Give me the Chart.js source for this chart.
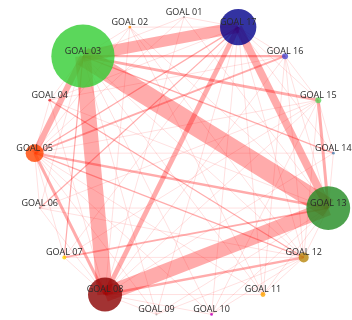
<!DOCTYPE html>
<html>
<head>
<meta charset="utf-8">
<script src="https://cdn.jsdelivr.net/npm/chart.js@4/dist/chart.umd.min.js"></script>
<style>
  html, body { margin: 0; padding: 0; background: #fff; }
  #wrap { width: 352px; height: 320px; }
</style>
</head>
<body>
<div id="wrap"><canvas id="c" width="352" height="320"></canvas></div>
<script>
// Goals (nodes), in order around the circle
const goals = ['GOAL 01','GOAL 02','GOAL 03','GOAL 04','GOAL 05','GOAL 06','GOAL 07','GOAL 08','GOAL 09',
               'GOAL 10','GOAL 11','GOAL 12','GOAL 13','GOAL 14','GOAL 15','GOAL 16','GOAL 17'];
// Occurrences per goal (node area)
const goalCount = [1, 2, 1000, 2, 80, 1, 4, 290, 1, 2, 6, 25, 480, 2, 9, 9, 330];
const goalColors = ['#999999','#ff8c00','#32cd32','#e8252a','#ff4500','#888888','#ffd700','#8b0000','#aaaaaa',
                    '#c000c0','#ffa500','#b8860b','#228b22','#4682b4','#5fd35f','#4a4ad0','#00008b'];

// Co-occurrence links between goals (1-based goal numbers) and their counts
const edgeFrom  = [3, 8, 3, 3, 17, 3, 17, 5, 3, 15, 3, 5, 8, 5, 7, 4, 3, 3, 5, 6, 5,
                   1, 1, 1, 1, 1, 2, 2, 2, 2, 2, 2, 2, 3, 3, 3, 3, 3, 3, 4, 4, 4, 4, 4,
                   5, 5, 5, 5, 5, 5, 5, 6, 6, 6, 6, 7, 7, 7, 7, 8, 8, 8, 8, 8, 8,
                   9, 9, 9, 10, 10, 10, 10, 11, 11, 11, 11, 12, 12, 12, 12, 13, 13, 14, 14, 15, 15, 16];
const edgeTo    = [13, 13, 8, 17, 13, 5, 8, 8, 15, 13, 16, 13, 12, 16, 13, 12, 7, 14, 17, 17, 12,
                   3, 17, 8, 13, 5, 3, 17, 13, 8, 12, 5, 11, 4, 6, 9, 10, 11, 12, 5, 8, 13, 17, 16,
                   6, 7, 9, 10, 11, 14, 15, 8, 13, 12, 15, 8, 17, 12, 15, 9, 10, 11, 14, 15, 16,
                   13, 17, 12, 13, 17, 12, 15, 13, 17, 16, 12, 13, 17, 15, 16, 14, 16, 17, 15, 17, 16, 17];
const edgeCount = [33, 25, 26, 19, 13, 10, 8, 5, 5, 5, 4, 4, 4, 3, 3, 2, 2, 2, 2, 2, 2,
                   1, 1, 1, 1, 1, 1, 1, 1, 1, 1, 1, 1, 1, 1, 1, 1, 1, 1, 1, 1, 1, 1, 1,
                   1, 1, 1, 1, 1, 1, 1, 1, 1, 1, 1, 1, 1, 1, 1, 1, 1, 1, 1, 1, 1,
                   1, 1, 1, 1, 1, 1, 1, 1, 1, 1, 1, 1, 1, 1, 1, 1, 1, 1, 1, 1, 1, 1];

// Circular layout: first goal at the top, the rest counter-clockwise on a unit circle
const n = goals.length;
const pos = goals.map((g, i) => {
  const a = Math.PI / 2 + 2 * Math.PI * i / n;
  return { x: Math.cos(a), y: Math.sin(a) };
});

function withAlpha(hex, a) {
  const v = parseInt(hex.slice(1), 16);
  return `rgba(${(v >> 16) & 255},${(v >> 8) & 255},${v & 255},${a})`;
}

const nodeDataset = {
  label: 'goals',
  data: pos,
  pointRadius: goalCount.map(c => Math.sqrt(c)),
  pointHoverRadius: goalCount.map(c => Math.sqrt(c)),
  backgroundColor: goalColors.map(c => withAlpha(c, 0.8)),
  borderWidth: 0,
  order: 0,
  clip: false
};

const edgeDatasets = edgeFrom.map((f, k) => ({
  label: goals[f - 1] + ' - ' + goals[edgeTo[k] - 1],
  data: [pos[f - 1], pos[edgeTo[k] - 1]],
  showLine: true,
  borderColor: edgeCount[k] > 1 ? 'rgba(255,0,0,0.33)' : 'rgba(255,0,0,0.28)',
  borderWidth: edgeCount[k] > 1 ? edgeCount[k] * 0.6 : 0.45,
  pointRadius: 0,
  pointHoverRadius: 0,
  order: 1,
  clip: false
}));

// Goal names centred just above each node
const goalLabels = {
  id: 'goalLabels',
  afterDatasetsDraw(chart) {
    const { ctx, scales: { x, y } } = chart;
    ctx.save();
    ctx.font = '9px "Open Sans", "DejaVu Sans", sans-serif';
    ctx.fillStyle = '#2a2a2a';
    ctx.textAlign = 'center';
    ctx.textBaseline = 'middle';
    goals.forEach((g, i) => {
      ctx.fillText(g, x.getPixelForValue(pos[i].x), y.getPixelForValue(pos[i].y) - 5);
    });
    ctx.restore();
  }
};

new Chart(document.getElementById('c'), {
  type: 'scatter',
  data: { datasets: [nodeDataset, ...edgeDatasets] },
  options: {
    responsive: false,
    devicePixelRatio: 1,
    animation: false,
    layout: { padding: 0, autoPadding: false },
    plugins: { legend: { display: false }, tooltip: { enabled: false } },
    scales: {
      x: { type: 'linear', display: false, min: -1.2267, max: 1.12 },
      y: { type: 'linear', display: false, min: -1.02, max: 1.1133 }
    }
  },
  plugins: [goalLabels]
});
</script>
</body>
</html>
